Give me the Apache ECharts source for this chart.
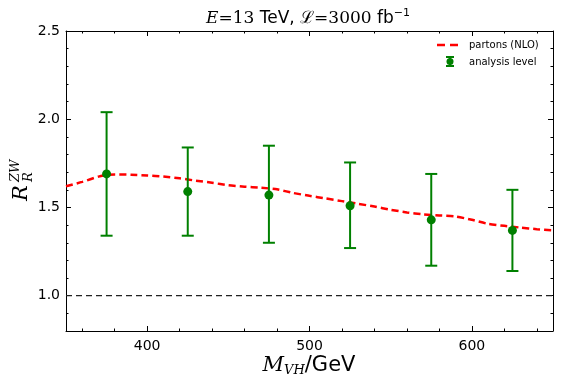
<!DOCTYPE html>
<html>
<head>
<meta charset="utf-8">
<script src="https://cdn.jsdelivr.net/npm/echarts@6/dist/echarts.min.js"></script>
<style>
  html, body { margin: 0; padding: 0; background: #fff; }
  #container { width: 562px; height: 388px; }
</style>
</head>
<body>
<div id="container"></div>
<script>
// parton level curve (NLO)
var curveMass = [350, 360, 370, 375, 380, 390, 400, 410, 420, 430, 440, 450, 460, 470, 480, 490, 500,
    510, 520, 530, 540, 550, 560, 570, 580, 590, 600, 610, 620, 630, 640, 650];
var curveRatio = [1.62, 1.645, 1.675, 1.685, 1.687, 1.686, 1.681, 1.675, 1.665, 1.652, 1.64, 1.626, 1.618,
    1.612, 1.603, 1.582, 1.566, 1.551, 1.536, 1.521, 1.505, 1.487, 1.472, 1.461, 1.455, 1.449, 1.43,
    1.407, 1.396, 1.386, 1.377, 1.37];

// analysis level points with error bars
var binMass = [375, 425, 475, 525, 575, 625];
var binRatio = [1.69, 1.59, 1.57, 1.51, 1.43, 1.37];
var binLow = [1.34, 1.34, 1.30, 1.27, 1.17, 1.14];
var binHigh = [2.04, 1.84, 1.85, 1.755, 1.69, 1.60];

// reference line
var refMass = [350, 650];
var refRatio = [1.0, 1.0];

// ticks
var xMajor = [400, 500, 600];
var xMinor = [360, 380, 420, 440, 460, 480, 520, 540, 560, 580, 620, 640];
var yMajor = [1.0, 1.5, 2.0, 2.5];
var yMinor = [0.9, 1.1, 1.2, 1.3, 1.4, 1.6, 1.7, 1.8, 1.9, 2.1, 2.2, 2.3, 2.4];

var green = '#008000';
var sans = 'DejaVu Sans';
var serif = 'DejaVu Serif';

function makeAxis(type, pos, ticks, len, showLine, labels) {
    var ax = {
        type: 'value',
        position: pos,
        min: type === 'x' ? 350 : 0.8,
        max: type === 'x' ? 650 : 2.5,
        axisLine: { show: showLine, onZero: false, lineStyle: { color: '#000', width: 1 } },
        axisTick: { show: true, inside: true, length: len, customValues: ticks,
            lineStyle: { color: '#000', width: 1 } },
        axisLabel: { show: false },
        splitLine: { show: false }
    };
    if (labels) {
        ax.axisLabel = {
            show: true, customValues: ticks, color: '#000', fontFamily: sans, fontSize: 14,
            margin: type === 'x' ? 8 : 6,
            formatter: function (v) { return type === 'x' ? String(v) : v.toFixed(1); }
        };
    }
    return ax;
}

var dom = document.getElementById("container");
var myChart = echarts.init(dom);

var errData = binMass.map(function (m, i) { return [m, binRatio[i], binLow[i], binHigh[i]]; });

var option = {
    animation: false,
    backgroundColor: '#fff',
    grid: { left: 66, right: 9, top: 31, bottom: 57 },
    xAxis: [
        makeAxis('x', 'bottom', xMajor, 5, true, true),
        makeAxis('x', 'bottom', xMinor, 2.5, false, false),
        makeAxis('x', 'top', xMajor, 5, true, false),
        makeAxis('x', 'top', xMinor, 2.5, false, false)
    ],
    yAxis: [
        makeAxis('y', 'left', yMajor, 5, true, true),
        makeAxis('y', 'left', yMinor, 2.5, false, false),
        makeAxis('y', 'right', yMajor, 5, true, false),
        makeAxis('y', 'right', yMinor, 2.5, false, false)
    ],
    series: [
        {
            name: 'reference',
            type: 'line',
            data: refMass.map(function (m, i) { return [m, refRatio[i]]; }),
            symbol: 'none',
            lineStyle: { color: '#222', width: 1.3, type: [6, 4] },
            z: 1
        },
        {
            name: 'partons (NLO)',
            type: 'line',
            data: curveMass.map(function (m, i) { return [m, curveRatio[i]]; }),
            symbol: 'none',
            smooth: 0.2,
            lineStyle: { color: '#ff0000', width: 2.5, type: [7, 4] },
            z: 2
        },
        {
            name: 'analysis level',
            type: 'custom',
            data: errData,
            encode: { x: 0, y: [1, 2, 3] },
            renderItem: function (params, api) {
                var x = api.value(0);
                var lo = api.coord([x, api.value(2)]);
                var hi = api.coord([x, api.value(3)]);
                var cap = 6;
                var st = { stroke: green, lineWidth: 2 };
                return {
                    type: 'group',
                    children: [
                        { type: 'line', shape: { x1: lo[0], y1: lo[1], x2: hi[0], y2: hi[1] }, style: st },
                        { type: 'line', shape: { x1: lo[0] - cap, y1: lo[1], x2: lo[0] + cap, y2: lo[1] }, style: st },
                        { type: 'line', shape: { x1: hi[0] - cap, y1: hi[1], x2: hi[0] + cap, y2: hi[1] }, style: st }
                    ]
                };
            },
            z: 3
        },
        {
            name: 'analysis level',
            type: 'scatter',
            data: binMass.map(function (m, i) { return [m, binRatio[i]]; }),
            symbol: 'circle',
            symbolSize: 9,
            itemStyle: { color: green, opacity: 1 },
            z: 4
        }
    ],
    graphic: [
        // title
        {
            type: 'text', x: 308, y: 19,
            style: {
                text: '{i|E}{s|=13}{n| TeV, }{s|ℒ}{s|=3000}{n| fb}{p|−1}',
                align: 'center', verticalAlign: 'middle',
                rich: {
                    i: { fontFamily: serif, fontStyle: 'italic', fontSize: 17, fill: '#000' },
                    s: { fontFamily: serif, fontSize: 17, fill: '#000' },
                    n: { fontFamily: sans, fontSize: 17, fill: '#000' },
                    p: { fontFamily: sans, fontSize: 11, fill: '#000', padding: [0, 0, 11, 0] }
                }
            }
        },
        // x axis name
        {
            type: 'text', x: 309, y: 366,
            style: {
                text: '{i|M}{sub|VH}{n|/GeV}',
                align: 'center', verticalAlign: 'middle',
                rich: {
                    i: { fontFamily: serif, fontStyle: 'italic', fontSize: 21, fill: '#000' },
                    sub: { fontFamily: serif, fontStyle: 'italic', fontSize: 13, fill: '#000', padding: [9, 0, 0, 0] },
                    n: { fontFamily: sans, fontSize: 21, fill: '#000' }
                }
            }
        },
        // y axis name
        {
            type: 'group', x: 22, y: 181, rotation: Math.PI / 2,
            children: [
                { type: 'text', x: -12, y: 0, style: { text: 'R', fontFamily: serif, fontStyle: 'italic',
                    fontSize: 21, fill: '#000', align: 'center', verticalAlign: 'middle' } },
                { type: 'text', x: -1, y: -6, style: { text: 'ZW', fontFamily: serif, fontStyle: 'italic',
                    fontSize: 13, fill: '#000', align: 'left', verticalAlign: 'middle' } },
                { type: 'text', x: -1, y: 7, style: { text: 'R', fontFamily: serif, fontStyle: 'italic',
                    fontSize: 13, fill: '#000', align: 'left', verticalAlign: 'middle' } }
            ]
        },
        // legend
        {
            type: 'group', x: 0, y: 0,
            children: [
                { type: 'line', shape: { x1: 437, y1: 45, x2: 460, y2: 45 },
                    style: { stroke: '#ff0000', lineWidth: 2.5, lineDash: [8, 5] } },
                { type: 'text', x: 469, y: 45, style: { text: 'partons (NLO)', fontFamily: sans, fontSize: 10,
                    fill: '#000', verticalAlign: 'middle' } },
                { type: 'line', shape: { x1: 450, y1: 57, x2: 450, y2: 66 }, style: { stroke: green, lineWidth: 2 } },
                { type: 'line', shape: { x1: 446, y1: 57, x2: 454, y2: 57 }, style: { stroke: green, lineWidth: 2 } },
                { type: 'line', shape: { x1: 446, y1: 66, x2: 454, y2: 66 }, style: { stroke: green, lineWidth: 2 } },
                { type: 'circle', shape: { cx: 450, cy: 61.5, r: 3.5 }, style: { fill: green } },
                { type: 'text', x: 469, y: 62, style: { text: 'analysis level', fontFamily: sans, fontSize: 10,
                    fill: '#000', verticalAlign: 'middle' } }
            ]
        }
    ]
};

myChart.setOption(option);
</script>
</body>
</html>
